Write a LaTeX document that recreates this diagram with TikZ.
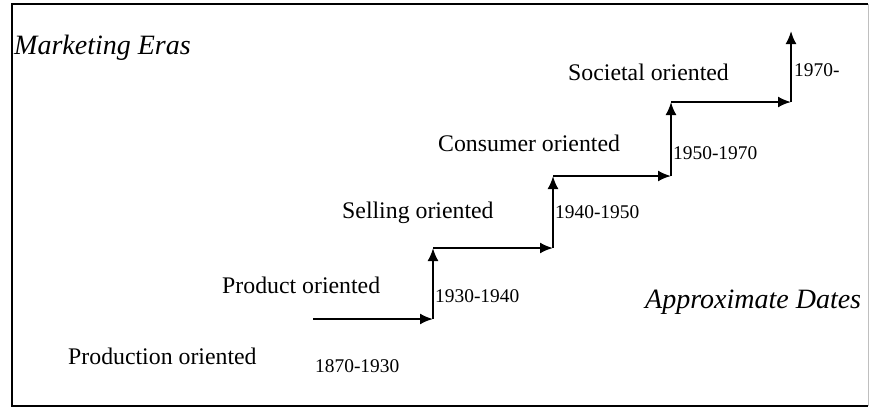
\documentclass[tikz,border=0pt]{standalone}
\usepackage{fontspec}
\setmainfont{Liberation Serif}
\usepackage{tikz}
\usetikzlibrary{arrows.meta,positioning}

\begin{document}
\begin{tikzpicture}[x=1pt,y=-1pt,>={Latex[length=13pt,width=11pt]},
  every node/.style={inner sep=0pt,anchor=west},
  era/.style={font=\fontsize{23.8}{26}\selectfont},
  date/.style={font=\fontsize{19.4}{21}\selectfont},
  head/.style={font=\fontsize{28}{30}\selectfont\itshape},
  stair/.style={->,line width=2pt}]
  \useasboundingbox (0,0) rectangle (870,410);
  % frame
  \draw[line width=1.6pt] (868,4) -- (12,4) -- (12,406) -- (868,406);
  \draw[black!25] (868,4) -- (868,406);
  % titles
  \node[head] (eras) at (14,48) {Marketing Eras};
  \node[head] (dates) at (645,302) {Approximate Dates};
  % staircase corners
  \coordinate (s0) at (313,319);
  \coordinate (c1) at (433,319);
  \coordinate (c2) at (433,248);
  \coordinate (c3) at (553,248);
  \coordinate (c4) at (553,176);
  \coordinate (c5) at (671,176);
  \coordinate (c6) at (671,102);
  \coordinate (c7) at (791,102);
  \coordinate (c8) at (791,31);
  \draw[stair] (s0) -- (c1);
  \draw[stair] (c1) -- (c2);
  \draw[stair] (c2) -- (c3);
  \draw[stair] (c3) -- (c4);
  \draw[stair] (c4) -- (c5);
  \draw[stair] (c5) -- (c6);
  \draw[stair] (c6) -- (c7);
  \draw[stair] (c7) -- (c8);
  % eras
  \node[era] (prod) at (68,356) {Production oriented};
  \node[era] (prdt) at (222,285) {Product oriented};
  \node[era] (sell) at (342,213) {Selling oriented};
  \node[era] (cons) at (438,143) {Consumer oriented};
  \node[era] (soc) at (568,72) {Societal oriented};
  % dates
  \node[date] (d1) at (315,366) {1870-1930};
  \node[date] (d2) at (435,296) {1930-1940};
  \node[date] (d3) at (555,212) {1940-1950};
  \node[date] (d4) at (673,153) {1950-1970};
  \node[date] (d5) at (794,70) {1970-};
\end{tikzpicture}
\end{document}
